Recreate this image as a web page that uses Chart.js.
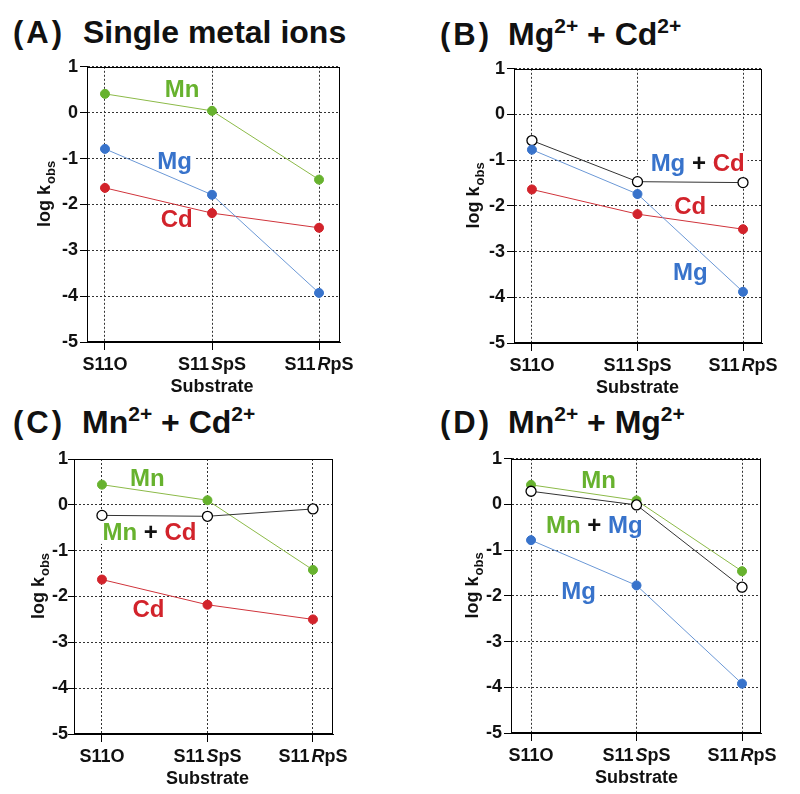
<!DOCTYPE html>
<html>
<head>
<meta charset="utf-8">
<script src="https://cdn.jsdelivr.net/npm/chart.js@4"></script>
<style>
  body { margin: 0; background: #fff; width: 800px; height: 794px; position: relative; overflow: hidden;
         font-family: "Liberation Sans", Arial, sans-serif; }
  .ttl { position: absolute; font-weight: bold; font-size: 32px; line-height: 32px; white-space: nowrap; color: #111; }
  .ttl.tag { letter-spacing: 3px; font-size: 31px; }
  .ttl sup { font-size: 21px; vertical-align: baseline; position: relative; top: -12px; }
  .panel { position: absolute; }
</style>
</head>
<body>
<div class="ttl tag" style="left:13px;top:17px">(A)</div>
<div class="ttl" style="left:83px;top:16px">Single metal ions</div>
<div class="ttl tag" style="left:440px;top:19px">(B)</div>
<div class="ttl" style="left:508px;top:18px">Mg<sup>2+</sup> + Cd<sup>2+</sup></div>
<div class="ttl tag" style="left:13px;top:407px">(C)</div>
<div class="ttl" style="left:82px;top:406px">Mn<sup>2+</sup> + Cd<sup>2+</sup></div>
<div class="ttl tag" style="left:440px;top:407px">(D)</div>
<div class="ttl" style="left:508px;top:406px">Mn<sup>2+</sup> + Mg<sup>2+</sup></div>

<script>
// substrates on the x axis (<i> marks the italic letter)
var categories = ['S11O', 'S11<i>S</i>pS', 'S11<i>R</i>pS'];
var yMin = -5, yMax = 1;

// (A) single metal ions
var mnA = [0.41, 0.04, -1.46];
var mgA = [-0.79, -1.79, -3.93];
var cdA = [-1.64, -2.19, -2.51];
// (B) Mg + Cd
var mgcdB = [-0.57, -1.47, -1.49];
var mgB = [-0.77, -1.74, -3.88];
var cdB = [-1.64, -2.18, -2.51];
// (C) Mn + Cd
var mnC = [0.44, 0.10, -1.42];
var mncdC = [-0.23, -0.25, -0.09];
var cdC = [-1.63, -2.18, -2.50];
// (D) Mn + Mg
var mnD = [0.43, 0.09, -1.46];
var mnmgD = [0.29, -0.01, -1.81];
var mgD = [-0.78, -1.77, -3.92];

var GREEN = '#67b22e', BLUE = '#3873cb', RED = '#d2232b', BLACK = '#111';
var LINE = { '#67b22e': '#8cba48', '#3873cb': '#6b98d6', '#d2232b': '#d0343b' };
var FONT = '"Liberation Sans", Arial, sans-serif';

function series(values, color, open) {
  return {
    data: values.map(function(v, i) { return {x: i, y: v}; }),
    borderColor: open ? '#333' : LINE[color],
    borderWidth: 1,
    pointRadius: open ? 5 : 4.5,
    pointBackgroundColor: open ? '#fff' : color,
    pointBorderColor: open ? '#000' : color,
    pointBorderWidth: open ? 1.3 : 1,
    tension: 0
  };
}

var panels = [
  { area: [87, 66, 340, 342], xr: [-0.168, 2.196], ygap: 43, tpad: 2,
    datasets: [series(mgA, BLUE), series(mnA, GREEN), series(cdA, RED)],
    notes: [ {x: 0.72, y: 0.51, parts: [['Mn', GREEN]]},
             {x: 0.65, y: -1.06, parts: [['Mg', BLUE]]},
             {x: 0.67, y: -2.33, parts: [['Cd', RED]]} ] },
  { area: [514, 68, 762, 343], xr: [-0.17, 2.18], ygap: 41, tpad: 2,
    datasets: [series(mgB, BLUE), series(mgcdB, null, true), series(cdB, RED)],
    notes: [ {x: 1.57, y: -1.07, parts: [['Mg', BLUE], [' + ', BLACK], ['Cd', RED]]},
             {x: 1.50, y: -2.01, parts: [['Cd', RED]]},
             {x: 1.50, y: -3.45, parts: [['Mg', BLUE]]} ] },
  { area: [74, 459, 333, 734], xr: [-0.265, 2.19], ygap: 36, tpad: 0,
    datasets: [series(mncdC, null, true), series(mnC, GREEN), series(cdC, RED)],
    notes: [ {x: 0.43, y: 0.57, parts: [['Mn', GREEN]]},
             {x: 0.45, y: -0.59, parts: [['Mn', GREEN], [' + ', BLACK], ['Cd', RED]]},
             {x: 0.44, y: -2.28, parts: [['Cd', RED]]} ] },
  { area: [511, 458, 761, 733], xr: [-0.19, 2.18], ygap: 39, tpad: 2,
    datasets: [series(mnmgD, null, true), series(mnD, GREEN), series(mgD, BLUE)],
    notes: [ {x: 0.64, y: 0.52, parts: [['Mn', GREEN]]},
             {x: 0.60, y: -0.46, parts: [['Mn', GREEN], [' + ', BLACK], ['Mg', BLUE]]},
             {x: 0.45, y: -1.91, parts: [['Mg', BLUE]]} ] }
];

var LEFT = 72, PADT = 12, PADR = 30, BOTTOM = 62;

function makeDecor(p) {
  return {
    id: 'decor',
    beforeDatasetsDraw: function(chart) {
      var ctx = chart.ctx, xs = chart.scales.x, ys = chart.scales.y;
      ctx.save();
      ctx.font = 'bold 24px ' + FONT;
      ctx.textBaseline = 'middle';
      ctx.textAlign = 'left';
      p.notes.forEach(function(n) {
        var w = 0;
        n.parts.forEach(function(t) { w += ctx.measureText(t[0]).width; });
        var cx = xs.getPixelForValue(n.x), cy = ys.getPixelForValue(n.y);
        ctx.fillStyle = '#fff';
        ctx.fillRect(cx - w / 2 - 3, cy - 12, w + 6, 24);
        var x = cx - w / 2;
        n.parts.forEach(function(t) {
          ctx.fillStyle = t[1];
          ctx.fillText(t[0], x, cy + 1);
          x += ctx.measureText(t[0]).width;
        });
      });
      ctx.restore();
    },
    afterDraw: function(chart) {
      var ctx = chart.ctx, xs = chart.scales.x, a = chart.chartArea;
      ctx.save();
      // frame
      ctx.strokeStyle = '#000';
      ctx.lineWidth = 1;
      ctx.strokeRect(Math.round(a.left) + 0.5, Math.round(a.top) + 0.5,
                     Math.round(a.right - a.left) - 1, Math.round(a.bottom - a.top) - 1);
      // x tick labels with italic letter
      ctx.fillStyle = BLACK;
      ctx.textBaseline = 'middle';
      ctx.textAlign = 'left';
      categories.forEach(function(c, i) {
        var bits = c.split(/<\/?i>/);
        var fonts = bits.map(function(b, k) { return (k % 2 ? 'italic bold ' : 'bold ') + '18px ' + FONT; });
        var w = 0;
        bits.forEach(function(b, k) { ctx.font = fonts[k]; w += ctx.measureText(b).width + (k % 2 ? 2 : 0); });
        var x = xs.getPixelForValue(i) - w / 2;
        bits.forEach(function(b, k) {
          ctx.font = fonts[k];
          if (k % 2) x += 2;
          ctx.fillText(b, x, a.bottom + 23);
          x += ctx.measureText(b).width;
        });
      });
      // x axis title
      ctx.font = 'bold 18px ' + FONT;
      ctx.textAlign = 'center';
      ctx.fillText('Substrate', xs.getPixelForValue(1), a.bottom + 45);
      // y axis title: log k_obs
      ctx.translate(a.left - p.ygap, (a.top + a.bottom) / 2 - 10);
      ctx.rotate(-Math.PI / 2);
      ctx.textAlign = 'left';
      ctx.textBaseline = 'alphabetic';
      ctx.font = 'bold 18px ' + FONT;
      var w1 = ctx.measureText('log k').width;
      ctx.font = 'bold 13px ' + FONT;
      var w2 = ctx.measureText('obs').width;
      var sx = -(w1 + w2) / 2;
      ctx.font = 'bold 18px ' + FONT;
      ctx.fillText('log k', sx, 6);
      ctx.font = 'bold 13px ' + FONT;
      ctx.fillText('obs', sx + w1 + 1, 11);
      ctx.restore();
    }
  };
}

panels.forEach(function(p) {
  var l = p.area[0], t = p.area[1], r = p.area[2], b = p.area[3];
  var div = document.createElement('div');
  div.className = 'panel';
  div.style.left = (l - LEFT) + 'px';
  div.style.top = (t - PADT) + 'px';
  var cv = document.createElement('canvas');
  cv.width = (r - l) + LEFT + PADR;
  cv.height = (b - t) + PADT + BOTTOM;
  cv.style.width = cv.width + 'px';
  cv.style.height = cv.height + 'px';
  div.appendChild(cv);
  document.body.appendChild(div);

  new Chart(cv.getContext('2d'), {
    type: 'line',
    data: { datasets: p.datasets },
    options: {
      responsive: false,
      animation: false,
      layout: { padding: { top: PADT, right: PADR, left: 0, bottom: 0 } },
      plugins: { legend: { display: false }, tooltip: { enabled: false } },
      scales: {
        x: {
          type: 'linear', min: p.xr[0], max: p.xr[1],
          afterBuildTicks: function(s) { s.ticks = categories.map(function(c, i) { return {value: i}; }); },
          afterFit: function(s) { s.height = BOTTOM; },
          ticks: { display: false },
          grid: { color: '#333', lineWidth: 1, tickLength: 8, tickColor: '#000', tickWidth: 1, tickBorderDash: [] },
          border: { color: '#000', width: 1, dash: [2, 2] }
        },
        y: {
          min: yMin, max: yMax,
          afterFit: function(s) { s.width = LEFT; },
          ticks: { stepSize: 1, color: BLACK, padding: p.tpad, font: { family: FONT, size: 18, weight: 'bold' } },
          grid: { color: '#333', lineWidth: 1, tickLength: p.tpad ? 7 : 6, tickColor: '#000', tickWidth: 1, tickBorderDash: [] },
          border: { color: '#000', width: 1, dash: [2, 2] }
        }
      }
    },
    plugins: [makeDecor(p)]
  });
});
</script>
</body>
</html>
